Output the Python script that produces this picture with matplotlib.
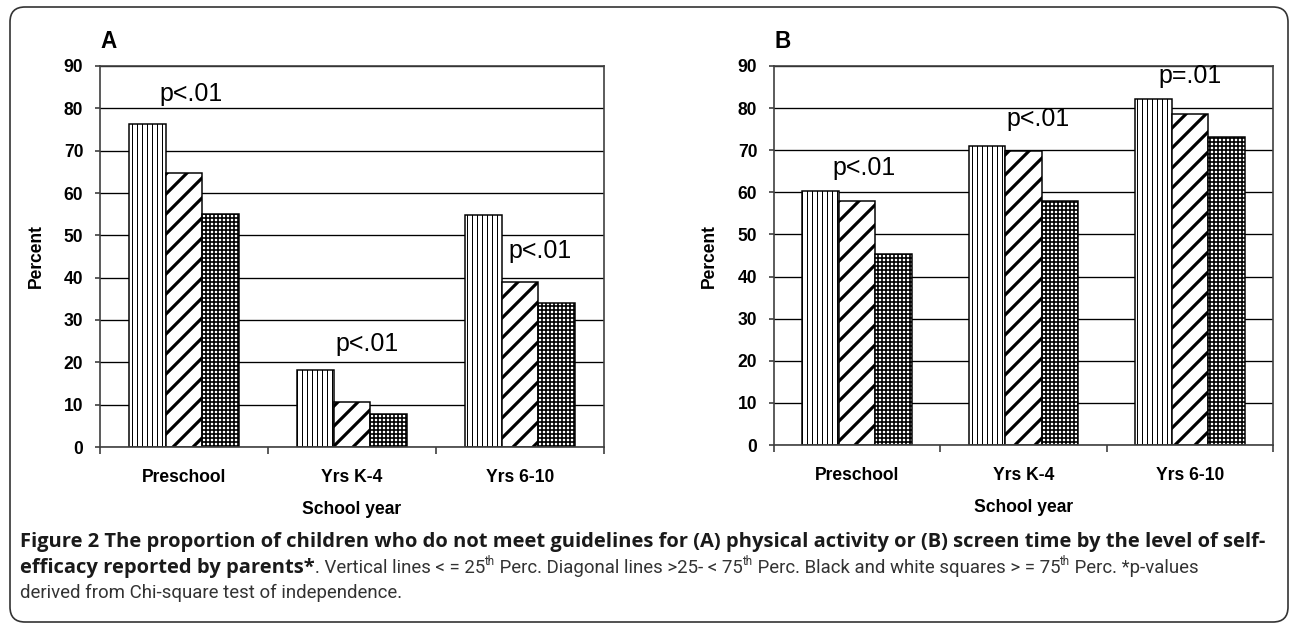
import numpy as np
import matplotlib
matplotlib.use("Agg")
import matplotlib.pyplot as plt
from matplotlib.patches import FancyBboxPatch
from matplotlib.transforms import IdentityTransform

school_years = ["Preschool", "Yrs K-4", "Yrs 6-10"]
y_ticks = [0, 10, 20, 30, 40, 50, 60, 70, 80, 90]

# (A) physical activity, by parental self-efficacy level
activity_low = [76.4, 18.3, 54.9]    # <= 25th perc.
activity_mid = [64.8, 10.6, 38.9]    # >25 - <75th perc.
activity_high = [55.1, 7.8, 34.1]    # >= 75th perc.
activity_pvals = ["p<.01", "p<.01", "p<.01"]

# (B) screen time
screen_low = [60.4, 71.0, 82.1]
screen_mid = [58.0, 69.9, 78.7]
screen_high = [45.3, 58.0, 73.1]
screen_pvals = ["p<.01", "p<.01", "p=.01"]

W, H, DPI = 1290, 625, 120
fig = plt.figure(figsize=(W / DPI, H / DPI), dpi=DPI)
plt.rcParams["font.family"] = ["Liberation Sans", "DejaVu Sans"]


def fx(x):
    return x / W


def fy(y):
    return 1 - y / H


def draw_panel(box, low, mid, high, pvals, pval_pos, letter, ylab_x):
    left, top, right, bottom = box
    ax = fig.add_axes([fx(left), fy(bottom), fx(right - left), (bottom - top) / H])
    x = np.arange(len(school_years))
    w = 0.22
    styles = [(low, "||||", 0.6), (mid, "//", 1.9), (high, "+++++", 1.0)]
    for i, (vals, hatch, hlw) in enumerate(styles):
        with plt.rc_context({"hatch.linewidth": hlw, "hatch.color": "black"}):
            bars = ax.bar(x + (i - 1) * w, vals, w, color="white", edgecolor="black",
                          linewidth=0.9, hatch=hatch, zorder=2)
        for b in bars:
            if hasattr(b, "set_hatch_linewidth"):
                b.set_hatch_linewidth(hlw)

    ax.set_xlim(-0.5, 2.5)
    ax.set_ylim(0, 90)
    ax.set_yticks(y_ticks)
    ax.set_yticklabels([str(v) for v in y_ticks], fontweight="bold", fontsize=10.5)
    ax.yaxis.grid(True, color="black", linewidth=0.8, zorder=0)
    ax.set_axisbelow(True)
    ax.tick_params(axis="y", length=3, width=1, pad=7, color="#404040")

    ax.set_xticks([-0.5, 0.5, 1.5, 2.5])
    ax.set_xticklabels([])
    ax.set_xticks(x, minor=True)
    ax.set_xticklabels(school_years, minor=True, fontweight="bold", fontsize=10.5)
    ax.tick_params(axis="x", which="major", length=4, width=1, color="#404040")
    ax.tick_params(axis="x", which="minor", length=0, pad=13)
    for s in ax.spines.values():
        s.set_color("#404040")
        s.set_linewidth(1.0)

    ax.set_ylabel("Percent", fontweight="bold", fontsize=10.5)
    ax.yaxis.set_label_coords(ylab_x, 0.5)

    for txt, (px, py) in zip(pvals, pval_pos):
        ax.text(px, py, txt, ha="center", va="center", fontsize=15, zorder=3)

    fig.text(fx(left), fy(48), letter, fontsize=13.5, fontweight="bold",
             ha="left", va="baseline")
    fig.text(fx((left + right) / 2), fy(bottom + 62), "School year",
             fontsize=10.5, fontweight="bold", ha="center", va="center")
    return ax


draw_panel((100, 66, 604, 447), activity_low, activity_mid, activity_high,
           activity_pvals, [(0.04, 83.5), (1.09, 24.4), (2.12, 46.3)], "A", -0.109)
draw_panel((774, 66, 1273, 445), screen_low, screen_mid, screen_high,
           screen_pvals, [(0.04, 65.7), (1.09, 77.5), (2.0, 87.6)], "B", -0.112)

# rounded frame around the figure
frame = FancyBboxPatch((10, 3), 1278, 615, boxstyle="round,pad=0,rounding_size=15",
                       transform=IdentityTransform(), facecolor="none",
                       edgecolor="#333333", linewidth=1.0)
fig.add_artist(frame)

# caption
r = fig.canvas.get_renderer()
bold_font = ["Open Sans", "DejaVu Sans"]
reg_font = ["Roboto", "Open Sans", "DejaVu Sans"]
reg_weight = "normal"


def text_width(s, size, weight, fam):
    t1 = fig.text(0, 0, s + "|", fontsize=size, fontweight=weight, family=fam)
    t2 = fig.text(0, 0, "|", fontsize=size, fontweight=weight, family=fam)
    w = t1.get_window_extent(r).width - t2.get_window_extent(r).width
    t1.remove()
    t2.remove()
    return w


line1 = ("Figure 2 The proportion of children who do not meet guidelines for (A) "
         "physical activity or (B) screen time by the level of self-")
bold_size = 11 * 1252 / text_width(line1, 11, "bold", bold_font)

dark = "#1a1a1a"
grey = "#333333"
line2 = [
    ("efficacy reported by parents*", "bold", dark, False),
    (". Vertical lines < = 25", reg_weight, grey, False),
    ("th", reg_weight, grey, True),
    (" Perc. Diagonal lines >25- < 75", reg_weight, grey, False),
    ("th", reg_weight, grey, True),
    (" Perc. Black and white squares > = 75", reg_weight, grey, False),
    ("th", reg_weight, grey, True),
    (" Perc. *p-values", reg_weight, grey, False),
]
line3 = [("derived from Chi-square test of independence.", reg_weight, grey, False)]


def run_size(weight, sup, reg_size):
    size = bold_size if weight == "bold" else reg_size
    return size * 0.62 if sup else size


def runs_width(parts, reg_size):
    total = 0
    for s, weight, color, sup in parts:
        fam = bold_font if weight == "bold" else reg_font
        total += text_width(s, run_size(weight, sup, reg_size), weight, fam)
    return total


# fit the regular text so that line 2 ends near where it does in the figure
fit = 11 * (1080 - text_width(line2[0][0], bold_size, "bold", bold_font)) / \
    runs_width(line2[1:], 11)
reg_size = min(max(fit, bold_size * 0.92), bold_size)


def put_runs(x, y, parts):
    for s, weight, color, sup in parts:
        fam = bold_font if weight == "bold" else reg_font
        size = run_size(weight, sup, reg_size)
        yy = y - 0.42 * reg_size * DPI / 72 if sup else y
        fig.text(fx(x), fy(yy), s, fontsize=size, fontweight=weight, color=color,
                 family=fam, va="baseline", ha="left")
        x += text_width(s, size, weight, fam)


put_runs(20, 547, [(line1, "bold", dark, False)])
put_runs(20, 573, line2)
put_runs(20, 598, line3)

fig.savefig("out.png", dpi=DPI)
